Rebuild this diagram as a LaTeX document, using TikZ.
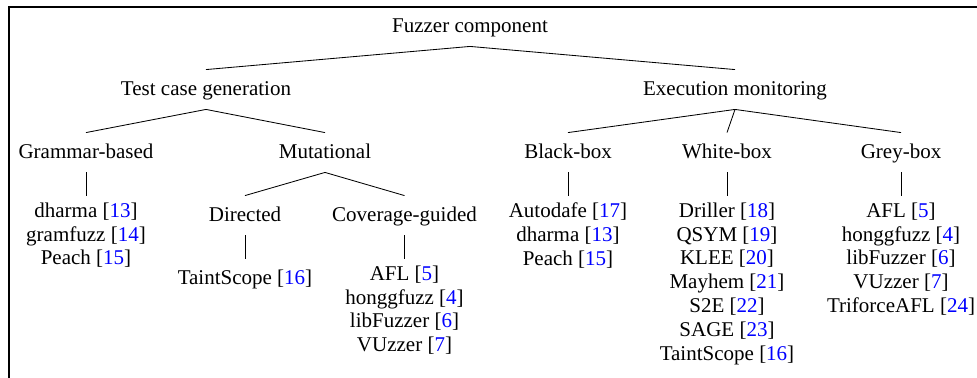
\documentclass[tikz,border=0pt]{standalone}
\usepackage{fontspec}
\setmainfont{LiberationSerif}[
    Extension = .ttf,
    UprightFont = *-Regular,
    BoldFont = *-Bold,
    ItalicFont = *-Italic,
    BoldItalicFont = *-BoldItalic]
\usepackage{xcolor}
\definecolor{citeblue}{RGB}{0,0,255}
\newcommand{\refnum}[1]{[\textcolor{citeblue}{#1}]}
\tikzset{
    cat/.style = {anchor=base, inner sep=3pt, text height=9.14pt, text depth=3.43pt},
    tools/.style = {anchor=north, align=center, inner sep=3pt,
        execute at begin node={\rule{0pt}{9.14pt}}},
}

\begin{document}
\begin{tikzpicture}[x=0.476pt, y=-0.476pt,
        every node/.style={font=\rmfamily\fontsize{10}{11.33}\selectfont}]
    \useasboundingbox (0,0) rectangle (977,377);
    \draw [line width=0.7pt] (990,7) -- (9,7) -- (9,390);

    % categories
    \node [cat] (fuzz) at (470,32.5) {Fuzzer component};
    \node [cat] (gen) at (206,95.5) {Test case generation};
    \node [cat] (mon) at (735,95.5) {Execution monitoring};
    \node [cat] (gram) at (86,158.5) {Grammar-based};
    \node [cat] (mut) at (325,158.5) {Mutational};
    \node [cat] (black) at (568,158.5) {Black-box};
    \node [cat] (white) at (727,158.5) {White-box};
    \node [cat] (grey) at (901,158.5) {Grey-box};
    \node [cat] (dir) at (245,221.5) {Directed};
    \node [cat] (cov) at (404.5,221.5) {Coverage-guided};

    % fuzzers
    \node [tools] (gramlist) at (86,196) {dharma \refnum{13}\\ gramfuzz \refnum{14}\\ Peach \refnum{15}};
    \node [tools] (dirlist) at (245,259) {TaintScope \refnum{16}};
    \node [tools] (covlist) at (404.5,259) {AFL \refnum{5}\\ honggfuzz \refnum{4}\\ libFuzzer \refnum{6}\\ VUzzer \refnum{7}};
    \node [tools] (blacklist) at (568,196) {Autodafe \refnum{17}\\ dharma \refnum{13}\\ Peach \refnum{15}};
    \node [tools] (whitelist) at (727,196) {Driller \refnum{18}\\ QSYM \refnum{19}\\ KLEE \refnum{20}\\ Mayhem \refnum{21}\\ S2E \refnum{22}\\ SAGE \refnum{23}\\ TaintScope \refnum{16}};
    \node [tools] (greylist) at (901,196) {AFL \refnum{5}\\ honggfuzz \refnum{4}\\ libFuzzer \refnum{6}\\ VUzzer \refnum{7}\\ TriforceAFL \refnum{24}};

    % edges
    \draw (fuzz.south) -- (gen.north);
    \draw (fuzz.south) -- (mon.north);
    \draw (gen.south) -- (gram.north);
    \draw (gen.south) -- (mut.north);
    \draw (mon.south) -- (black.north);
    \draw (mon.south) -- (white.north);
    \draw (mon.south) -- (grey.north);
    \draw (mut.south) -- (dir.north);
    \draw (mut.south) -- (cov.north);
    \draw (gram.south) -- (gramlist.north);
    \draw (dir.south) -- (dirlist.north);
    \draw (cov.south) -- (covlist.north);
    \draw (black.south) -- (blacklist.north);
    \draw (white.south) -- (whitelist.north);
    \draw (grey.south) -- (greylist.north);
\end{tikzpicture}
\end{document}
